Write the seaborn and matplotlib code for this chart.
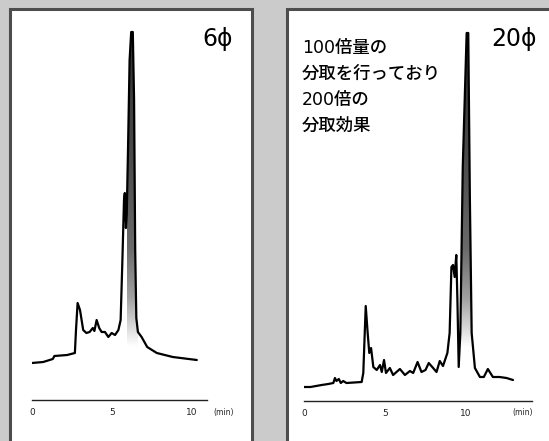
import numpy as np
import matplotlib
matplotlib.use("Agg")
import matplotlib.pyplot as plt
from matplotlib.colors import LinearSegmentedColormap
from matplotlib.patches import Rectangle
import seaborn as sns

# 6 phi column: retention time (min) and detector signal (arbitrary units)
t_6 = [0, 0.7, 1.3, 1.4, 2.2, 2.68, 2.75, 2.85, 3.0, 3.2, 3.4, 3.6, 3.8, 3.9,
       4.04, 4.2, 4.35, 4.56, 4.77, 4.98, 5.19, 5.4, 5.54, 5.65, 5.75, 5.8,
       5.87, 5.92, 6.0, 6.1, 6.2, 6.3, 6.38, 6.45, 6.52, 6.62, 6.85, 7.2, 7.8,
       8.8, 10.3]
sig_6 = [37, 38, 41, 44, 45, 47, 70, 97, 90, 70, 67, 68, 72, 69,
         80, 72, 68, 68, 63, 67, 65, 70, 80, 140, 200, 207,
         172, 185, 250, 340, 368, 368, 300, 150, 82, 68, 63, 53, 47,
         43, 40]

# 20 phi column
t_20 = [0, 0.4, 1.09, 1.5, 1.81, 1.91, 2.0, 2.15, 2.27, 2.42, 2.62, 3.56, 3.66,
        3.81, 3.93, 4.03, 4.14, 4.28, 4.49, 4.69, 4.8, 4.94, 5.06, 5.3, 5.5,
        5.92, 6.23, 6.54, 6.74, 7.01, 7.25, 7.5, 7.7, 7.97, 8.18, 8.38, 8.58,
        8.85, 8.99, 9.1, 9.2, 9.3, 9.4, 9.47, 9.55, 9.65, 9.8, 10.04, 10.14,
        10.24, 10.35, 10.55, 10.86, 11.1, 11.35, 11.66, 12.07, 12.5, 12.9]
sig_20 = [14, 14, 16, 17, 18, 23, 20, 22, 18, 20, 18, 19, 28,
          95, 68, 48, 53, 34, 31, 36, 29, 41, 28, 33, 26,
          32, 26, 30, 28, 39, 29, 31, 38, 33, 29, 40, 35,
          48, 68, 134, 136, 124, 146, 101, 34, 68, 234, 368, 368,
          201, 68, 33, 24, 24, 32, 24, 24, 23, 21]

# shaded main peak (fraction collected)
cut_6 = (5.92, 6.62)
cut_20 = (9.6, 10.45)

major_ticks = [0, 5, 10]
labels = ["6\u03d5", "20\u03d5"]
note = ["100倍量の", "分取を行っており", "200倍の", "分取効果"]

sns.set_style("white")
plt.rcParams['font.family'] = ['DejaVu Sans', 'Noto Sans CJK JP']

W, H = 549, 441
fig = plt.figure(figsize=(W / 100, H / 100), dpi=100, facecolor='#cbcbcb')

# white panels with dark frames
for x0, x1 in [(9.5, 251.5), (286.5, 600)]:
    fig.add_artist(Rectangle((x0 / W, -0.1), (x1 - x0) / W, 1.1 - 8.5 / H,
                             transform=fig.transFigure, facecolor='white',
                             edgecolor='#4d4d4d', lw=2.2, zorder=0))

grad_cmap = LinearSegmentedColormap.from_list(
    "frac", [(0, 'white'), (0.14, 'white'), (0.27, '#a0a0a0'),
             (0.4, '#6a6a6a'), (0.65, '#4a4a4a'), (1, '#303030')])


def panel(left_px, px_per_min, tmax, axis_px, t, sig, cut, nminor):
    ax = fig.add_axes([left_px / W, (H - axis_px) / H,
                       tmax * px_per_min / W, (axis_px - 20) / H])
    ax.set_facecolor('none')
    ax.set_xlim(0, tmax)
    ax.set_ylim(0, axis_px - 20)

    t = np.array(t)
    sig = np.array(sig)
    m = (t >= cut[0]) & (t <= cut[1])
    poly = ax.fill_between(t[m], 0, sig[m], facecolor='none', edgecolor='none')
    grad = np.linspace(0, 1, 256).reshape(-1, 1)
    im = ax.imshow(grad, extent=[cut[0], cut[1], 0, 380], origin='lower',
                   aspect='auto', cmap=grad_cmap, zorder=1)
    im.set_clip_path(poly.get_paths()[0], transform=ax.transData)

    sns.lineplot(x=t, y=sig, ax=ax, color='black', lw=1.6, zorder=3)

    for s in ['left', 'right', 'top']:
        ax.spines[s].set_visible(False)
    ax.spines['bottom'].set_color('#222222')
    ax.spines['bottom'].set_linewidth(1.0)
    ax.set_yticks([])
    ax.set_xticks(major_ticks)
    ax.set_xticks(range(0, nminor + 1), minor=True)
    ax.tick_params(axis='x', which='major', direction='out', length=4.5,
                   width=0.9, pad=1.5, labelsize=6.5, colors='#222222')
    ax.tick_params(axis='x', which='minor', direction='out', length=2,
                   width=0.9, colors='#222222')
    ax.set_xlabel("")
    ax.set_ylabel("")
    return ax


panel(32, 16.0, 10.94, 400, t_6, sig_6, cut_6, 10)
panel(304, 16.2, 14.07, 401, t_20, sig_20, cut_20, 13)

for xc in [224, 523]:
    fig.text(xc / W, 1 - 413 / H, "(min)", ha='center', va='center',
             fontsize=5.5, color='#222222')

fig.text(202 / W, 1 - 39 / H, labels[0], ha='left', va='center',
         fontsize=17, color='black')
fig.text(491 / W, 1 - 39 / H, labels[1], ha='left', va='center',
         fontsize=17, color='black')

for i, line in enumerate(note):
    fig.text(302 / W, 1 - (48 + 26 * i) / H, line, ha='left', va='center',
             fontsize=12.5, fontweight='medium', color='black')

fig.savefig("out.png", dpi=100, facecolor=fig.get_facecolor())
